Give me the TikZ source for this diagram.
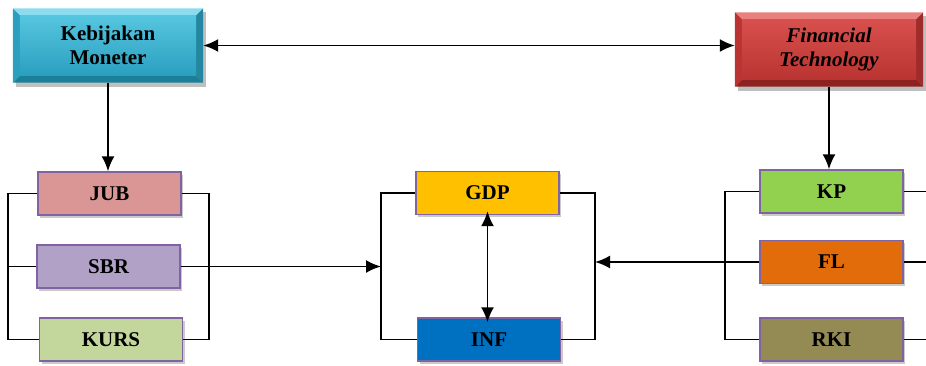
\documentclass[tikz,border=0pt]{standalone}
\usepackage{fontspec}
\setmainfont{Liberation Serif}
\usetikzlibrary{arrows.meta,shadows,backgrounds,calc}
\definecolor{bord}{HTML}{8064A2}
\definecolor{cJUB}{HTML}{D99694}
\definecolor{cSBR}{HTML}{B2A1C7}
\definecolor{cKURS}{HTML}{C3D69B}
\definecolor{cGDP}{HTML}{FFC000}
\definecolor{cINF}{HTML}{0070C0}
\definecolor{cKP}{HTML}{92D050}
\definecolor{cFL}{HTML}{E36C0A}
\definecolor{cRKI}{HTML}{948A54}
\definecolor{cyanT}{HTML}{56C6E0}
\definecolor{cyanB}{HTML}{2A9FBE}
\definecolor{cyanL}{HTML}{8ADCEE}
\definecolor{cyanD}{HTML}{1B7F9A}
\definecolor{redT}{HTML}{D8504D}
\definecolor{redB}{HTML}{B93432}
\definecolor{redL}{HTML}{E9807D}
\definecolor{redD}{HTML}{8E2221}
\tikzset{
  smallbox/.style={draw=bord, line width=1.4pt, minimum width=143pt, minimum height=43pt,
    inner sep=0pt, font=\fontsize{21}{24}\selectfont\bfseries,
    drop shadow={shadow xshift=2pt, shadow yshift=-2.5pt, opacity=0.35, fill=black!60}},
  topbox/.style={minimum width=#1, minimum height=74pt, inner sep=0pt, align=center,
    font=\fontsize{21}{24}\selectfont\bfseries},
  conn/.style={line width=1.9pt, black},
  arr/.style={conn, -{Latex[length=15pt,width=13pt]}},
  darr/.style={conn, {Latex[length=15pt,width=13pt]}-{Latex[length=15pt,width=13pt]}},
}
\newcommand{\bevelbox}[5]{% node, top, bottom, light, dark
  \fill[black, opacity=0.25] ($(#1.north west)+(3pt,-4pt)$) rectangle ($(#1.south east)+(3pt,-4pt)$);
  \fill[#4] (#1.north west) -- (#1.north east) -- ($(#1.north east)+(-7pt,-7pt)$) -- ($(#1.north west)+(7pt,-7pt)$) -- cycle;
  \fill[#5] (#1.south west) -- (#1.south east) -- ($(#1.south east)+(-7pt,7pt)$) -- ($(#1.south west)+(7pt,7pt)$) -- cycle;
  \fill[#3] (#1.north west) -- ($(#1.north west)+(7pt,-7pt)$) -- ($(#1.south west)+(7pt,7pt)$) -- (#1.south west) -- cycle;
  \fill[#3!85!black] (#1.north east) -- ($(#1.north east)+(-7pt,-7pt)$) -- ($(#1.south east)+(-7pt,7pt)$) -- (#1.south east) -- cycle;
  \shade[top color=#2, bottom color=#3] ($(#1.north west)+(7pt,-7pt)$) rectangle ($(#1.south east)+(-7pt,7pt)$);
}
\begin{document}
\begin{tikzpicture}[x=1pt,y=-1pt]
\useasboundingbox (0,0) rectangle (926,365);
% top boxes
\node[topbox=190pt] (KM) at (108,45.5) {Kebijakan\\Moneter};
\node[topbox=188pt, font=\fontsize{21}{24}\selectfont\bfseries\itshape] (FT) at (829,49.5) {Financial\\Technology};
\begin{scope}[on background layer]
\bevelbox{KM}{cyanT}{cyanB}{cyanL}{cyanD}
\bevelbox{FT}{redT}{redB}{redL}{redD}
\end{scope}
% small boxes
\node[smallbox, fill=cJUB] (JUB) at (109.5,193.5) {JUB};
\node[smallbox, fill=cSBR] (SBR) at (108.5,266.5) {SBR};
\node[smallbox, fill=cKURS] (KURS) at (111,339.5) {KURS};
\node[smallbox, fill=cGDP] (GDP) at (487.5,193) {GDP};
\node[smallbox, fill=cINF] (INF) at (489,339.5) {INF};
\node[smallbox, fill=cKP] (KP) at (831.5,191.5) {KP};
\node[smallbox, fill=cFL] (FL) at (831.5,262) {FL};
\node[smallbox, fill=cRKI] (RKI) at (831.5,339.5) {RKI};
% bracket coordinates
\coordinate (L1) at (8,0);
\coordinate (R1) at (209,0);
\coordinate (G1) at (381,0);
\coordinate (G2) at (595,0);
\coordinate (K1) at (725,0);
\coordinate (E) at (926,0);
% connectors
\draw[darr] (KM.east) -- (KM.east -| FT.west);
\draw[arr] (KM.south) -- (KM.south |- JUB.north);
\draw[arr] (FT.south) -- (FT.south |- KP.north);
% left group
\draw[conn] (JUB.west) -- (JUB.west -| L1) |- (KURS.west);
\draw[conn] (SBR.west) -- (SBR.west -| L1);
\draw[conn] (JUB.east) -- (JUB.east -| R1) |- (KURS.east);
\draw[arr] (SBR.east) -- (SBR.east -| G1);
% middle group
\draw[conn] (GDP.west) -- (GDP.west -| G1) |- (INF.west);
\draw[conn] (GDP.east) -- (GDP.east -| G2) |- (INF.east);
\draw[darr] ([yshift=4pt]GDP.south) -- ([yshift=-5pt]GDP.south |- INF.north);
% right group
\draw[conn] (KP.west) -- (KP.west -| K1) |- (RKI.west);
\draw[conn] (FL.west) -- (FL.west -| K1);
\draw[arr] (FL.west -| K1) -- (FL.west -| G2);
\draw[conn] (KP.east) -- (KP.east -| E);
\draw[conn] (FL.east) -- (FL.east -| E);
\draw[conn] (RKI.east) -- (RKI.east -| E);
\end{tikzpicture}
\end{document}
